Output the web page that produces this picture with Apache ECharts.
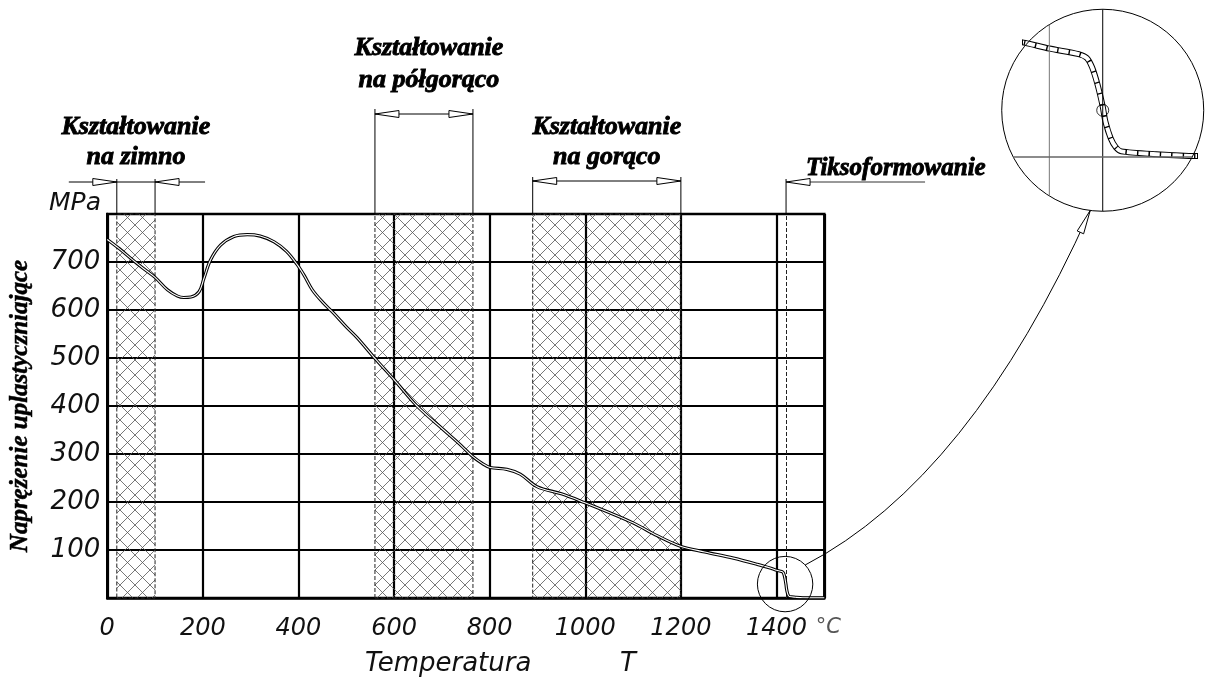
<!DOCTYPE html>
<html><head><meta charset="utf-8">
<script src="https://cdn.jsdelivr.net/npm/echarts@6/dist/echarts.min.js"></script>
<style>html,body{margin:0;padding:0;background:#fff}#c{width:1208px;height:677px}</style>
</head><body><div id="c"></div>
<script>
// ---- data ----
const temps  = [0,25,50,75,100,126,147,160,175,192,202,216,237,265,293,320,349,375,397,412,429,450,473,500,523,561,600,648,704,740,763,785,801,836,864,899,950,998,1050,1101,1150,1199,1250,1310,1360,1391,1400,1411,1414,1416,1418,1420,1421,1423,1425,1427,1440,1455,1500];
const stress = [747,728,707,687,668,642,629,626,627,638,665,704,735,753,757,754,742,722,695,672,642,617,594,565,542,498,455,400,350,318,296,280,272,268,258,232,217,199,178,156,130,108,96,83,70,61,58,55,53,48,39,27,19,10,5,3,1.5,0.5,0.3];
const zonesT = [[20,100],[560,765],[890,1200]];
const zoneNames = ['Kształtowanie\nna zimno','Kształtowanie\nna półgorąco','Kształtowanie\nna gorąco'];
const thixoT = 1420;
const thixoName = 'Tiksoformowanie';
const yTitle = 'Naprężenie uplastyczniające';
const yUnit = 'MPa';
const xTitle = 'Temperatura';
const xSymbol = 'T';
const xUnit = '°C';
const zoomSpot = [1418, 29];
const insetX = [1391, 1454];
const insetY = [-30, 80];
const insetMarker = [[1420, 25]];
const insetRefT = [1400, 1420];

const pts = temps.map((t,i)=>[t, stress[i]]);

// hatch pattern
const pc = document.createElement('canvas'); pc.width = 15; pc.height = 15;
const g = pc.getContext('2d'); g.strokeStyle = '#555'; g.lineWidth = 0.8;
g.beginPath(); g.moveTo(0,0); g.lineTo(15,15); g.moveTo(15,0); g.lineTo(0,15); g.stroke();

const labFont = {fontFamily:'DejaVu Sans', fontStyle:'italic', fontWeight:'normal', color:'#111'};
const serifBold = {fontFamily:'Liberation Serif', fontStyle:'italic', fontWeight:'bold', color:'#000'};

const chart = echarts.init(document.getElementById('c'), null, {renderer:'canvas'});
const option = {
  backgroundColor:'#fff',
  animation:false,
  grid:[
    {left:106.5, top:214, width:717.8, height:384, show:true, borderColor:'#000', borderWidth:2.5, backgroundColor:'transparent'},
    {left:1025.3, top:7.4, width:168.2, height:205.7}
  ],
  xAxis:[
    {type:'value', gridIndex:0, min:0, max:1500, interval:200,
     axisLine:{show:true, onZero:false, lineStyle:{color:'#000', width:2.5}},
     axisTick:{show:false},
     axisLabel:Object.assign({margin:19, fontSize:24,
        formatter:v=> v===1500 ? '{u|' + xUnit + '}' : String(v),
        rich:{u:{fontFamily:'DejaVu Sans', fontStyle:'italic', fontSize:21, color:'#555', padding:[0,0,0,8]}}}, labFont),
     splitLine:{show:true, lineStyle:{color:'#000', width:2.2}}},
    {type:'value', gridIndex:1, min:insetX[0], max:insetX[1], show:false}
  ],
  yAxis:[
    {type:'value', gridIndex:0, min:0, max:800, interval:100,
     axisLine:{show:true, lineStyle:{color:'#000', width:2.5}},
     axisTick:{show:false},
     axisLabel:Object.assign({margin:7, fontSize:26, formatter:v=> (v===0||v===800) ? '' : String(v)}, labFont),
     splitLine:{show:true, lineStyle:{color:'#000', width:2.2}},
     name:yTitle, nameLocation:'middle', nameGap:74, nameRotate:90,
     nameTextStyle:Object.assign({fontSize:25, textBorderColor:'#000', textBorderWidth:0.5}, serifBold)},
    {type:'value', gridIndex:1, min:insetY[0], max:insetY[1], show:false}
  ],
  series:[
    {type:'line', xAxisIndex:0, yAxisIndex:0, data:pts, symbol:'none', smooth:0.35, z:5,
     lineStyle:{color:'#000', width:3.2},
     markArea:{silent:true, z:3,
       itemStyle:{color:{image:pc, repeat:'repeat'}, borderColor:'#222', borderWidth:1, borderType:[4,2]},
       data: zonesT.map(z=>[{xAxis:z[0]},{xAxis:z[1]}])},
     markLine:{silent:true, symbol:'none', label:{show:false},
       lineStyle:{color:'#222', width:1, type:[4,2]}, data:[{xAxis:thixoT}]}},
    {type:'line', xAxisIndex:0, yAxisIndex:0, data:pts, symbol:'none', smooth:0.35, z:6,
     lineStyle:{color:'#fff', width:1.1}},
    {type:'line', xAxisIndex:1, yAxisIndex:1, data:pts, symbol:'none', smooth:0.25, z:5, clip:true,
     lineStyle:{color:'#000', width:6}},
    {type:'line', xAxisIndex:1, yAxisIndex:1, data:pts, symbol:'none', smooth:0.25, z:6, clip:true,
     lineStyle:{color:'#fff', width:4, type:[10,1.4]}},
    {type:'scatter', xAxisIndex:1, yAxisIndex:1, data:insetMarker, symbol:'circle', symbolSize:12, z:7,
     itemStyle:{color:'rgba(0,0,0,0)', borderColor:'#000', borderWidth:1}}
  ]
};
chart.setOption(option);

// ---- annotations positioned from the axes ----
const P = (t,s)=>chart.convertToPixel({gridIndex:0}, [t,s]);
const Q = (t,s)=>chart.convertToPixel({gridIndex:1}, [t,s]);
const topY = P(0,800)[1];
const gr = [];
function line(x1,y1,x2,y2,st){ gr.push({type:'line', shape:{x1,y1,x2,y2}, style:Object.assign({stroke:'#000', lineWidth:1}, st||{}), z:20}); }
function tri(tx,ty,dx,dy,len,hw){ // tip at (tx,ty), pointing along (dx,dy)
  const n=Math.hypot(dx,dy); dx/=n; dy/=n;
  const bx=tx-dx*len, by=ty-dy*len;
  gr.push({type:'polygon', shape:{points:[[tx,ty],[bx-dy*hw,by+dx*hw],[bx+dy*hw,by-dx*hw]]}, style:{fill:'#fff', stroke:'#000', lineWidth:1}, z:21});
}
function txt(x,y,text,size,align,lh){
  gr.push({type:'text', x, y, style:{text, fontSize:size, align:align||'center', verticalAlign:'middle', lineHeight:lh||size,
    fill:'#000', stroke:'#000', lineWidth:0.9, fontFamily:serifBold.fontFamily, fontStyle:'italic', fontWeight:'bold'}, z:22});
}
// cold
{ const a=P(zonesT[0][0],0)[0], b=P(zonesT[0][1],0)[0], y=182;
  line(a,179,a,topY); line(b,179,b,topY); line(a-48,y,b+50,y);
  tri(a,y,1,0,24,3.5); tri(b,y,-1,0,24,3.5);
  txt((a+b)/2, 142, zoneNames[0], 26, 'center', 30); }
// half-hot
{ const a=P(zonesT[1][0],0)[0], b=P(zonesT[1][1],0)[0], y=114;
  line(a,109,a,topY); line(b,109,b,topY); line(a,y,b,y);
  tri(a,y,-1,0,24,3.5); tri(b,y,1,0,24,3.5);
  txt((a+b)/2+5, 64, zoneNames[1], 26, 'center', 32); }
// hot
{ const a=P(zonesT[2][0],0)[0], b=P(zonesT[2][1],0)[0], y=181;
  line(a,177,a,topY); line(b,177,b,topY); line(a,y,b,y);
  tri(a,y,-1,0,24,3.5); tri(b,y,1,0,24,3.5);
  txt((a+b)/2, 142, zoneNames[2], 26, 'center', 30); }
// thixo
{ const a=P(thixoT,0)[0], y=182;
  line(a,179,a,topY); line(a,y,a+139,y,{stroke:'#333'});
  tri(a,y,-1,0,24,3.5);
  txt(a+20, 169, thixoName, 25, 'left'); }
// labels
const sansIt = {fontFamily:'DejaVu Sans', fontStyle:'italic', fontWeight:'normal', fill:'#111'};
gr.push({type:'text', x:75, y:203, style:Object.assign({text:yUnit, fontSize:25, align:'center', verticalAlign:'middle'}, sansIt), z:22});
gr.push({type:'text', x:365, y:664, style:Object.assign({text:xTitle, fontSize:26, align:'left', verticalAlign:'middle'}, sansIt), z:22});
gr.push({type:'text', x:628, y:664, style:Object.assign({text:xSymbol, fontSize:26, align:'center', verticalAlign:'middle'}, sansIt), z:22});
// magnifier
const zc = P(zoomSpot[0], zoomSpot[1]); const zr = 27.7;
gr.push({type:'circle', shape:{cx:zc[0], cy:zc[1], r:zr}, style:{fill:null, stroke:'#000', lineWidth:1}, z:20});
const cx = Q(insetRefT[1],0)[0], gy0 = Q(0,insetY[1])[1], gy1 = Q(0,insetY[0])[1];
const cy = (gy0+gy1)/2, R = 101;
gr.push({type:'circle', shape:{cx, cy, r:R}, style:{fill:null, stroke:'#000', lineWidth:1}, z:20});
// inset reference lines
line(cx, cy-R, cx, cy+R);
{ const x4 = Q(insetRefT[0],0)[0], d = Math.sqrt(R*R-(cx-x4)*(cx-x4)); line(x4, cy-d, x4, cy+d, {stroke:'#777'}); }
{ const y0 = Q(insetRefT[1],0)[1], d = Math.sqrt(R*R-(y0-cy)*(y0-cy)); line(cx-d, y0, cx+d, y0, {stroke:'#666', lineWidth:1.5}); }
// leader curve
const s0 = [zc[0]+zr*0.725, zc[1]-zr*0.689];
const e0 = [cx-12.5, cy+Math.sqrt(R*R-12.5*12.5)];
const cp = [970, 479];
gr.push({type:'bezierCurve', shape:{x1:s0[0], y1:s0[1], cpx1:cp[0], cpy1:cp[1], x2:e0[0], y2:e0[1]}, style:{fill:null, stroke:'#000', lineWidth:1}, z:20});
tri(e0[0], e0[1], e0[0]-cp[0], e0[1]-cp[1], 24, 3.5);

chart.setOption({graphic:{elements:gr}});
</script></body></html>
